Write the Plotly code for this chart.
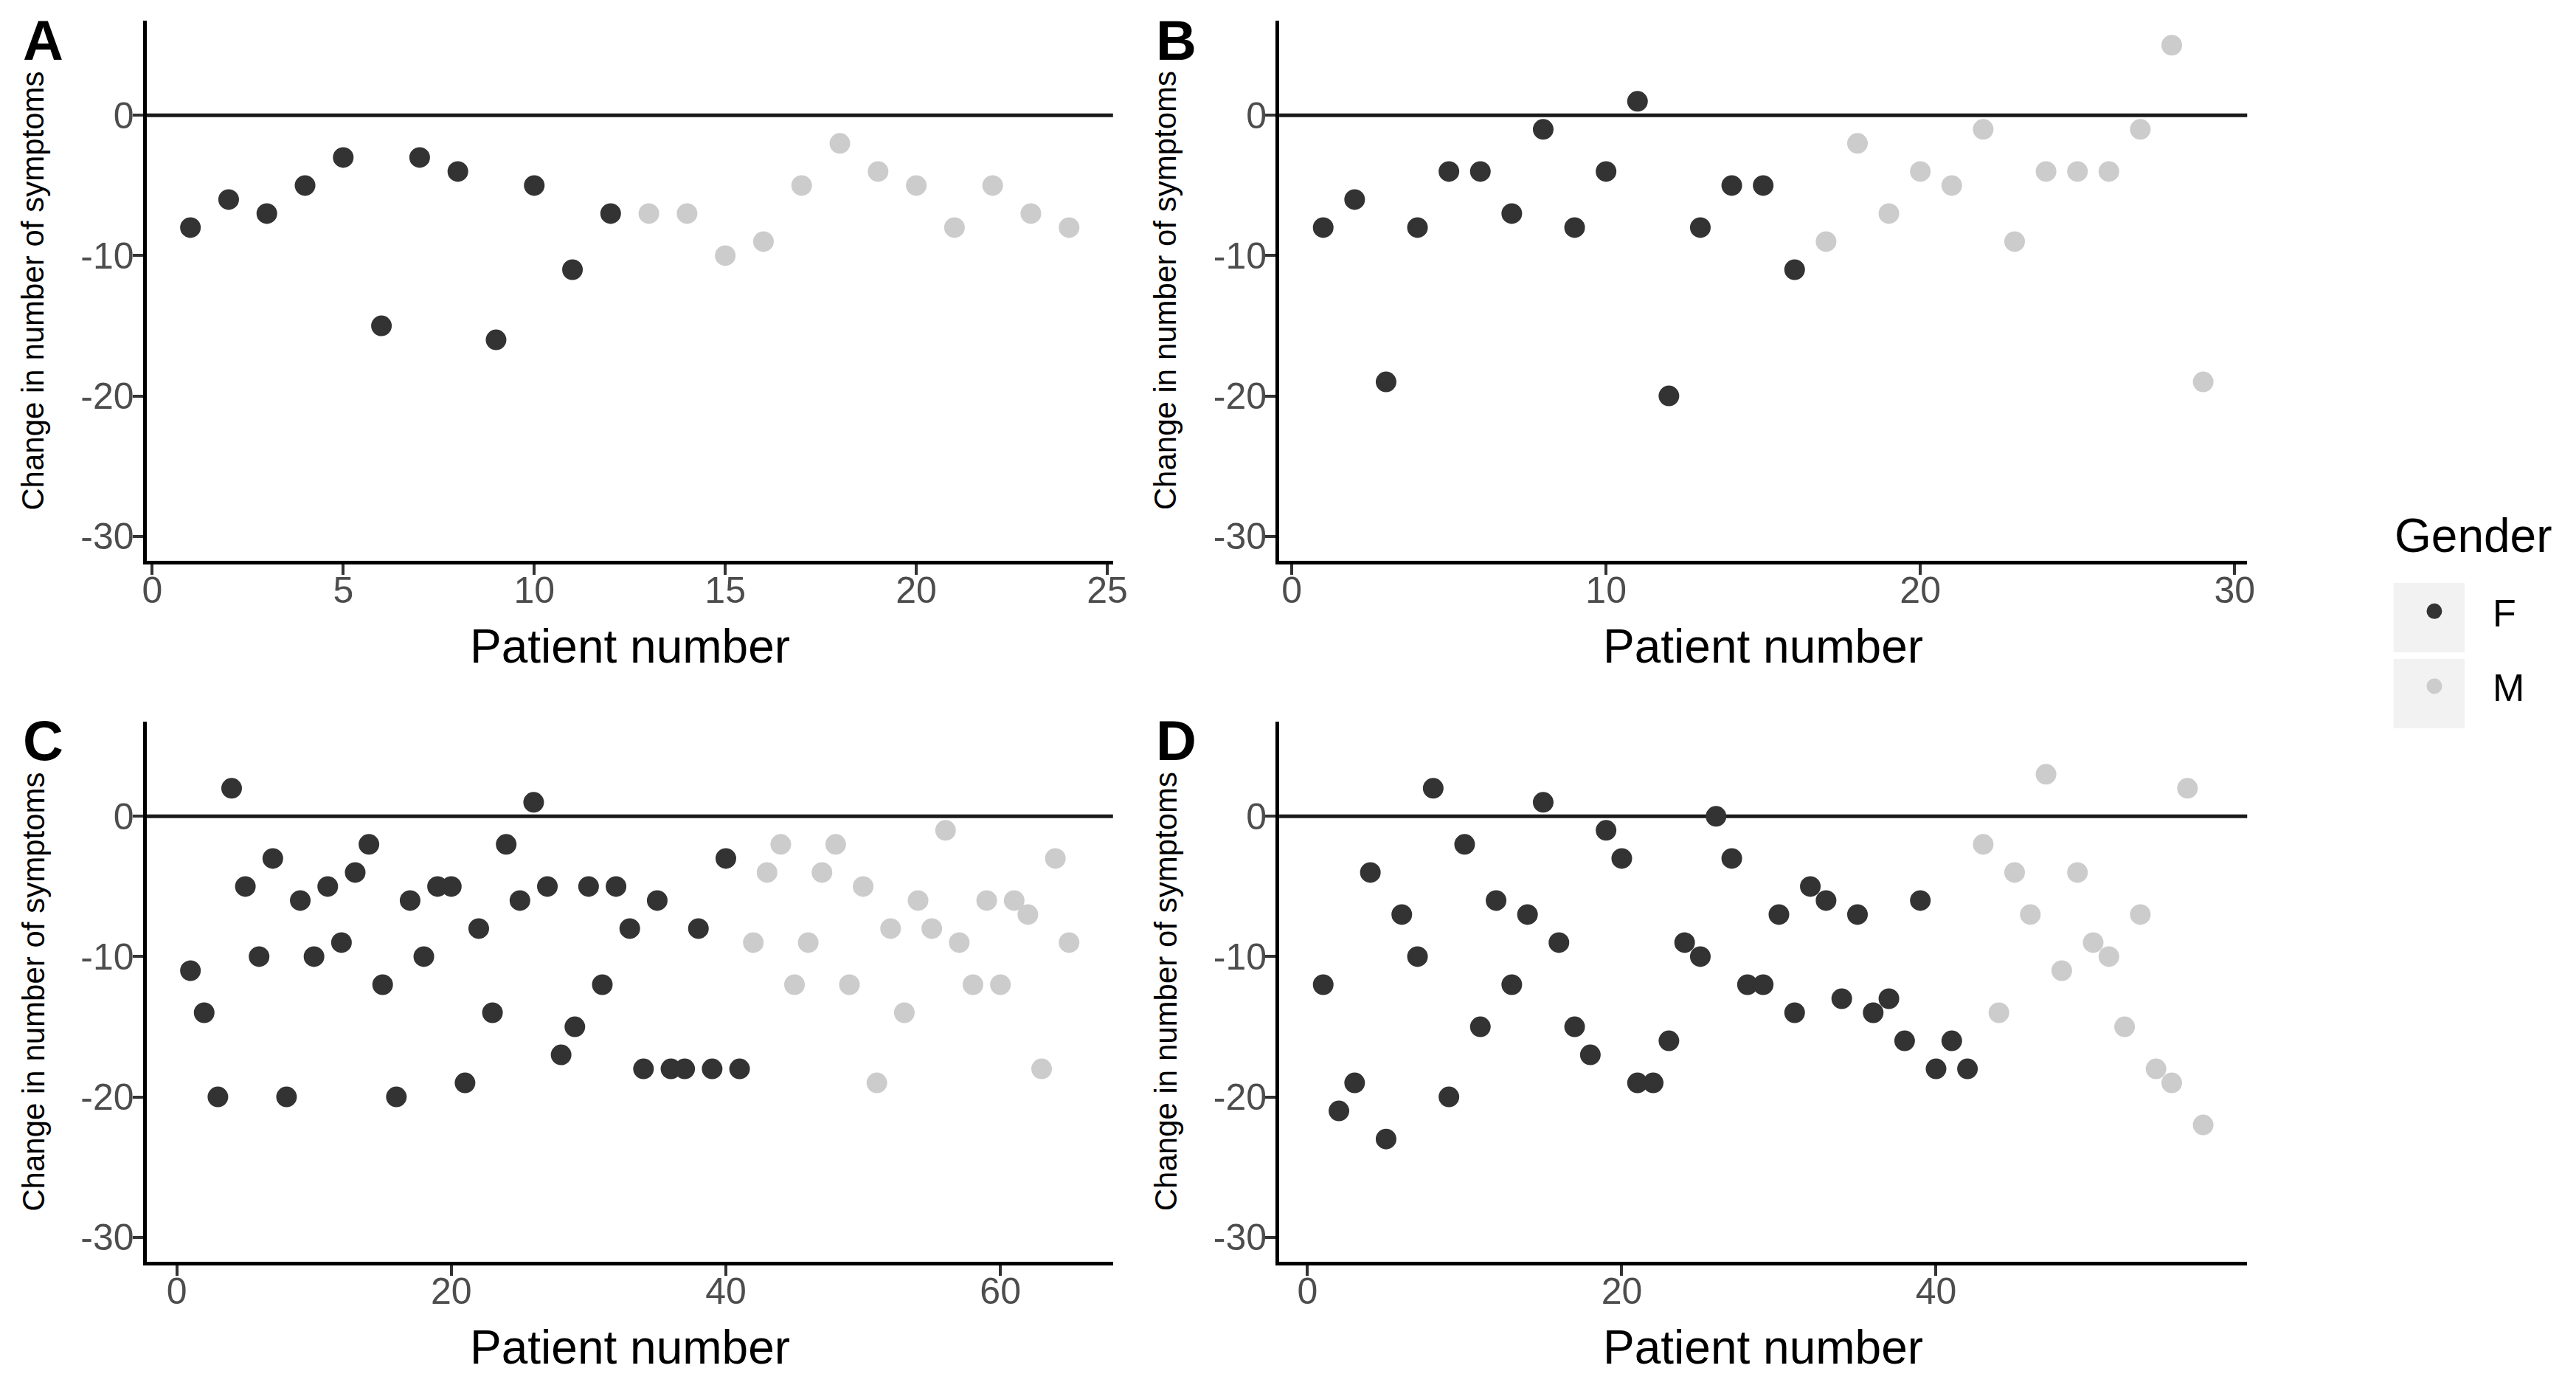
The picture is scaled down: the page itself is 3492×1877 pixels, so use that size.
import numpy as np
import plotly.graph_objects as go

# ---------------- data ----------------
panels = ["A", "B", "C", "D"]

A_F = [-8, -6, -7, -5, -3, -15, -3, -4, -16, -5, -11, -7]
A_M = [-7, -7, -10, -9, -5, -2, -4, -5, -8, -5, -7, -8]

B_F = [-8, -6, -19, -8, -4, -4, -7, -1, -8, -4, 1, -20, -8, -5, -5, -11]
B_M = [-9, -2, -7, -4, -5, -1, -9, -4, -4, -4, -1, 5, -19]

C_F = [-11, -14, -20, 2, -5, -10, -3, -20, -6, -10, -5, -9, -4, -2, -12, -20, -6, -10,
       -5, -5, -19, -8, -14, -2, -6, 1, -5, -17, -15, -5, -12, -5, -8, -18, -6, -18,
       -18, -8, -18, -3, -18]
C_M = [-9, -4, -2, -12, -9, -4, -2, -12, -5, -19, -8, -14, -6, -8, -1, -9, -12, -6,
       -12, -6, -7, -18, -3, -9]

D_F = [-12, -21, -19, -4, -23, -7, -10, 2, -20, -2, -15, -6, -12, -7, 1, -9, -15, -17,
       -1, -3, -19, -19, -16, -9, -10, 0, -3, -12, -12, -7, -14, -5, -6, -13, -7, -14,
       -13, -16, -6, -18, -16, -18]
D_M = [-2, -14, -4, -7, 3, -11, -4, -9, -10, -15, -7, -18, -19, 2, -22]

x_ticks = {
    "A": [0, 5, 10, 15, 20, 25],
    "B": [0, 10, 20, 30],
    "C": [0, 20, 40, 60],
    "D": [0, 20, 40],
}
y_ticks = [-30, -20, -10, 0]
y_tick_labels = ["-30", "-20", "-10", "0"]
gender_levels = ["F", "M"]

# ---------------- styling ----------------
W, H = 3492, 1877
FONT = "Liberation Sans, Arial, sans-serif"
COL = {"F": "#333333", "M": "#cccccc"}

def px_x(p):
    return p / W

def px_y(p):
    return 1 - p / H

# plot-area boxes in pixels (left, right, top, bottom)
boxes = {
    "A": (186, 1506, 20, 752),
    "B": (1733, 3055, 20, 752),
    "C": (186, 1506, 970, 1702),
    "D": (1733, 3055, 970, 1702),
}
tag_y = {"A": 46, "B": 46, "C": 995, "D": 995}

data = {"A": (A_F, A_M), "B": (B_F, B_M), "C": (C_F, C_M), "D": (D_F, D_M)}

fig = go.Figure()
shapes = []
annotations = []

for i, p in enumerate(panels):
    k = i + 1
    xa = "x" if k == 1 else f"x{k}"
    ya = "y" if k == 1 else f"y{k}"
    f_vals, m_vals = data[p]
    n_f = len(f_vals)
    n_tot = n_f + len(m_vals)
    pid_f = np.arange(1, n_f + 1)
    pid_m = np.arange(n_f + 1, n_tot + 1)
    for g, xs, ys in (("F", pid_f, f_vals), ("M", pid_m, m_vals)):
        fig.add_trace(go.Scatter(
            x=xs, y=ys, mode="markers", name=g, legendgroup=g,
            showlegend=(k == 1), xaxis=xa, yaxis=ya,
            marker=dict(color=COL[g], size=23, line=dict(color=COL[g], width=5)),
        ))
    l, r, t, b = boxes[p]
    span = n_tot - 1
    xr = [1 - 0.05 * span, n_tot + 0.05 * span]
    axkey = "xaxis" if k == 1 else f"xaxis{k}"
    aykey = "yaxis" if k == 1 else f"yaxis{k}"
    common = dict(showline=True, linecolor="black", linewidth=5, mirror=False,
                  showgrid=False, zeroline=False, ticks="outside", ticklen=14,
                  tickwidth=4, tickcolor="#333333",
                  tickfont=dict(family=FONT, size=50, color="#4d4d4d"))
    fig.update_layout({
        axkey: dict(domain=[px_x(l), px_x(r)], range=xr, anchor=ya,
                    tickvals=x_ticks[p], ticklabelstandoff=-22, **common),
        aykey: dict(domain=[px_y(b), px_y(t)], range=[-31.75, 6.75], anchor=xa,
                    tickvals=y_ticks, ticktext=y_tick_labels,
                    ticklabelstandoff=-12, **common),
    })
    # zero reference line
    shapes.append(dict(type="line", xref=f"{xa} domain", yref=ya, x0=0, x1=1,
                       y0=0, y1=0, line=dict(color="#1a1a1a", width=5), layer="below"))
    # axis titles
    annotations.append(dict(text="Patient number", xref="paper", yref="paper",
                            x=px_x((l + r) / 2), y=px_y(b + 116), xanchor="center",
                            yanchor="middle", showarrow=False,
                            font=dict(family=FONT, size=64, color="black")))
    annotations.append(dict(text="Change in number of symptoms", xref="paper",
                            yref="paper", x=px_x(l - 155), y=px_y((t + b) / 2),
                            xanchor="center", yanchor="middle", textangle=-90,
                            showarrow=False,
                            font=dict(family=FONT, size=42, color="black")))
    # panel tag
    annotations.append(dict(text=f"<b>{p}</b>", xref="paper", yref="paper",
                            x=px_x(l - 141), y=px_y(tag_y[p]), xanchor="center",
                            yanchor="middle", showarrow=False,
                            font=dict(family=FONT, size=76, color="black")))

# legend title
annotations.append(dict(text="Gender", xref="paper", yref="paper",
                        x=px_x(3254), y=px_y(718), xanchor="left", yanchor="middle",
                        showarrow=False, font=dict(family=FONT, size=64, color="black")))

# legend key backgrounds
for j, g in enumerate(gender_levels):
    y0 = 782 + j * 103
    shapes.append(dict(type="rect", xref="paper", yref="paper",
                       x0=px_x(3255), x1=px_x(3352), y0=px_y(y0 + 94), y1=px_y(y0),
                       fillcolor="#f2f2f2", line=dict(width=0), layer="below"))

fig.update_layout(
    width=W, height=H,
    margin=dict(l=0, r=0, t=0, b=0),
    paper_bgcolor="white", plot_bgcolor="white",
    shapes=shapes, annotations=annotations,
    showlegend=True,
    legend=dict(
        font=dict(family=FONT, size=52, color="black"),
        x=px_x(3231), xanchor="left", y=px_y(780), yanchor="top",
        bgcolor="rgba(0,0,0,0)", itemsizing="trace", tracegroupgap=31,
        itemwidth=148,
    ),
)

fig.write_html("out.html")
